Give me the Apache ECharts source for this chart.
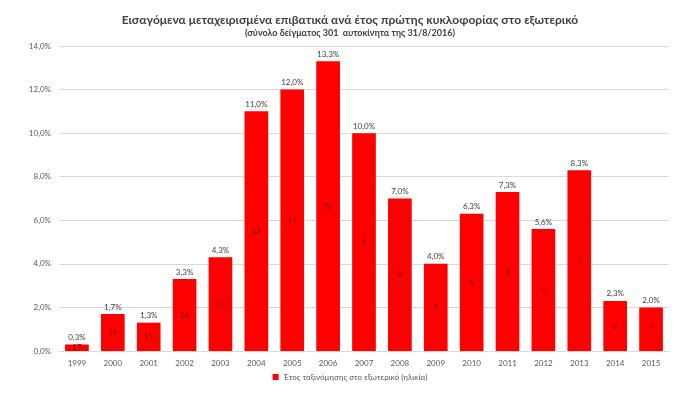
<!DOCTYPE html>
<html>
<head>
<meta charset="utf-8">
<script src="https://cdn.jsdelivr.net/npm/echarts@6/dist/echarts.min.js"></script>
<style>html,body{margin:0;padding:0;background:#fff;}#c{width:700px;height:394px;}</style>
</head>
<body>
<div id="c"></div>
<script>
const years = ['1999','2000','2001','2002','2003','2004','2005','2006','2007','2008','2009','2010','2011','2012','2013','2014','2015'];
const percents = [0.3,1.7,1.3,3.3,4.3,11.0,12.0,13.3,10.0,7.0,4.0,6.3,7.3,5.6,8.3,2.3,2.0];
const ages = [17,16,15,14,13,12,11,10,9,8,7,6,5,4,3,2,1];
const yTicks = [0,2,4,6,8,10,12,14];
const seriesName = 'Έτος ταξινόμησης στο εξωτερικό (ηλικία)';
const titleText = 'Εισαγόμενα μεταχειρισμένα επιβατικά ανά έτος πρώτης κυκλοφορίας στο εξωτερικό';
const subtitleText = '(σύνολο δείγματος 301  αυτοκίνητα της 31/8/2016)';

const fmt = v => v.toFixed(1).replace('.', ',') + '%';
const font = 'Lato';
const chart = echarts.init(document.getElementById('c'), null, {renderer:'canvas'});
chart.setOption({
  animation: false,
  backgroundColor: '#fff',
  title: {
    text: titleText,
    subtext: subtitleText,
    left: 'center',
    top: 9,
    itemGap: 3,
    textStyle: {fontFamily: font, fontSize: 12, fontWeight: 'bold', color: '#404040'},
    subtextStyle: {fontFamily: font, fontSize: 9, fontWeight: 'bold', color: '#404040'}
  },
  legend: {
    data: [seriesName],
    bottom: 8,
    left: 'center',
    itemWidth: 6, itemHeight: 6,
    itemGap: 4,
    icon: 'rect',
    textStyle: {fontFamily: font, fontSize: 8, color: '#595959'}
  },
  grid: {left: 59, right: 31, top: 46, bottom: 43, containLabel: false},
  xAxis: {
    type: 'category',
    data: years,
    axisLine: {show: true, lineStyle: {color: '#d9d9d9'}},
    axisTick: {show: false},
    axisLabel: {fontFamily: font, fontSize: 8, color: '#595959', margin: 8}
  },
  yAxis: {
    type: 'value',
    min: 0, max: 14, interval: 2,
    axisLine: {show: false},
    axisTick: {show: false},
    splitLine: {lineStyle: {color: '#d9d9d9'}},
    axisLabel: {fontFamily: font, fontSize: 8, color: '#595959', margin: 8,
      formatter: v => yTicks.includes(v) ? fmt(v) : ''}
  },
  series: [
    {
      name: seriesName,
      type: 'bar',
      data: percents,
      barWidth: '66%',
      itemStyle: {color: '#ff0000'},
      label: {show: true, position: 'top', distance: 3, fontFamily: font, fontSize: 8, color: '#404040',
        formatter: p => fmt(p.value)}
    },
    {
      name: 'ages',
      type: 'bar',
      data: percents,
      barWidth: '66%',
      barGap: '-100%',
      itemStyle: {color: 'rgba(0,0,0,0)'},
      label: {show: true, position: 'inside', fontFamily: font, fontSize: 8, color: '#7a0000',
        formatter: p => String(ages[p.dataIndex])}
    }
  ]
});
</script>
</body>
</html>
